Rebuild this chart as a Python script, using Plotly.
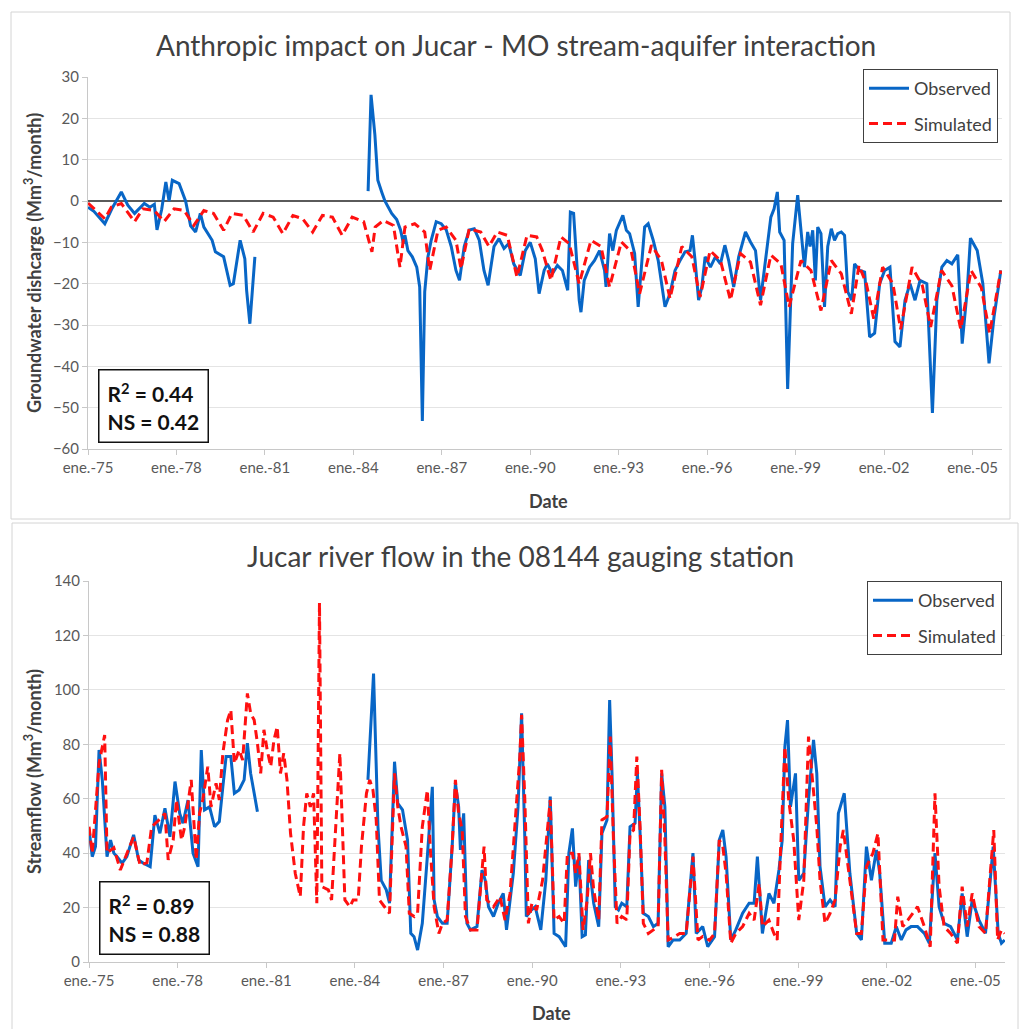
import plotly.graph_objects as go

# ---------------- DATA ----------------
TICK_YEARS = [1975, 1978, 1981, 1984, 1987, 1990, 1993, 1996, 1999, 2002, 2005]
TICK_LABELS = ["ene.-75", "ene.-78", "ene.-81", "ene.-84", "ene.-87", "ene.-90",
               "ene.-93", "ene.-96", "ene.-99", "ene.-02", "ene.-05"]

# Groundwater discharge, observed (decimal year, Mm3/month); None = gap
gw_obs_t = [1975.0, 1975.2, 1975.57, 1975.8, 1976.13, 1976.35, 1976.58, 1976.91, 1977.1, 1977.25,
            1977.34, 1977.5, 1977.64, 1977.75, 1977.86, 1978.09, 1978.31, 1978.48, 1978.65, 1978.81,
            1978.93, 1979.21, 1979.32, 1979.6, 1979.82, 1979.93, 1980.16, 1980.32, 1980.38, 1980.49,
            1980.66, None,
            1984.5, 1984.6, 1984.73, 1984.83, 1984.97, 1985.07, 1985.3, 1985.47, 1985.6, 1985.7,
            1985.75, 1985.85, 1986.0, 1986.15, 1986.25, 1986.34, 1986.42, 1986.53, 1986.64, 1986.81,
            1986.98, 1987.15, 1987.32, 1987.48, 1987.6, 1987.76, 1987.93, 1988.1, 1988.27, 1988.43,
            1988.57, 1988.77, 1988.94, 1989.11, 1989.27, 1989.44, 1989.66, 1989.83, 1990.0, 1990.17,
            1990.3, 1990.47, 1990.58, 1990.75, 1990.92, 1991.09, 1991.27, 1991.36, 1991.47, 1991.55,
            1991.66, 1991.72, 1991.83, 1992.01, 1992.18, 1992.35, 1992.52, 1992.57, 1992.69, 1992.8,
            1992.92, 1993.14, 1993.26, 1993.37, 1993.54, 1993.66, 1993.77, 1993.88, 1994.0, 1994.17,
            1994.34, 1994.57, 1994.74, 1994.91, 1995.08, 1995.25, 1995.42, 1995.5, 1995.59, 1995.71,
            1995.82, 1995.93, 1996.11, 1996.28, 1996.45, 1996.6, 1996.73, 1996.9, 1997.07, 1997.3,
            1997.47, 1997.64, 1997.81, 1997.98, 1998.16, 1998.27, 1998.38, 1998.46, 1998.61, 1998.73,
            1998.9, 1999.07, 1999.18, 1999.3, 1999.41, 1999.49, 1999.58, 1999.67, 1999.75, 1999.86,
            1999.98, 2000.09, 2000.21, 2000.32, 2000.43, 2000.55, 2000.66, 2000.77, 2000.9, 2001.0,
            2001.17, 2001.34, 2001.51, 2001.68, 2001.85, 2002.02, 2002.2, 2002.37, 2002.54, 2002.71,
            2002.88, 2003.05, 2003.22, 2003.45, 2003.64, 2003.79, 2003.96, 2004.13, 2004.3, 2004.5,
            2004.65, 2004.82, 2004.93, 2005.16, 2005.35, 2005.56, 2005.73, 2005.96]
gw_obs_v = [-1.5, -2.5, -5.5, -2, 2.2, -1, -3, -0.6, -1.5, -0.8,
            -7, -2, 4.6, 0, 5, 4.2, 0, -6, -7.5, -3,
            -6.3, -9.5, -12.3, -13.5, -20.4, -20, -9.5, -14, -21.6, -29.7,
            -13.5, None,
            2.4, 25.7, 16, 5, 2, 0, -3, -4.5, -7, -10.3,
            -8.3, -12, -13.5, -16, -20.8, -53.2, -22, -13.5, -9.5, -5,
            -5.5, -7, -11, -16.8, -19.2, -11, -7, -6.7, -9.5, -16.8,
            -20.4, -11, -9.1, -11.5, -10.3, -15.2, -18, -12, -10, -14,
            -22.4, -16.8, -15.2, -17.6, -15.6, -16.8, -21.6, -2.7, -3, -12,
            -24, -26.9, -19.2, -16, -14.4, -12, -16.8, -20.8, -7.9, -12,
            -7.1, -3.5, -7.1, -7.9, -12.7, -25.6, -16.8, -6.3, -5.5, -9.5,
            -14.4, -25.6, -22.4, -16.8, -14.4, -12.3, -12, -8.3, -14.4, -24,
            -20.8, -13.5, -16, -13.5, -15.2, -10.7, -14.4, -20.8, -13.5, -7.5,
            -9.9, -12, -24, -14.4, -3.9, -1.9, 2.2, -7.5, -9.5, -45.5,
            -10.3, 1.4, -6.3, -16, -7.5, -11, -7.1, -19.2, -6.3, -7.9,
            -25.6, -11, -6.7, -9.5, -7.9, -7.5, -8.3, -22, -24, -15.2,
            -16.8, -17.2, -32.9, -32, -20, -16.8, -16, -34, -35.3, -24,
            -20, -24, -19.2, -20, -51.3, -24, -16, -14.4, -15.2, -13,
            -34.5, -21.6, -9, -12, -20, -39.3, -28, -16.8]

# Groundwater discharge, simulated
gw_sim_t = [1975.0, 1975.57, 1975.79, 1976.13, 1976.58, 1976.86, 1977.25, 1977.58, 1977.92, 1978.26,
            1978.59, 1978.93, 1979.26, 1979.6, 1979.88, 1980.27, 1980.6, 1980.94, 1981.28, 1981.61,
            1981.95, 1982.28, 1982.62, 1982.95, 1983.29, 1983.62, 1983.96, 1984.35, 1984.63, 1984.74,
            1985.02, 1985.36, 1985.58, 1985.75, 1986.08, 1986.42, 1986.59, 1986.87, 1987.15, 1987.48,
            1987.65, 1987.93, 1988.32, 1988.6, 1988.88, 1989.22, 1989.55, 1989.89, 1990.22, 1990.41,
            1990.7, 1991.04, 1991.32, 1991.66, 1992.06, 1992.4, 1992.69, 1993.09, 1993.43, 1993.71,
            1994.11, 1994.45, 1994.74, 1995.14, 1995.48, 1995.76, 1996.1, 1996.45, 1996.79, 1997.13,
            1997.47, 1997.81, 1998.16, 1998.5, 1998.78, 1999.18, 1999.52, 1999.86, 2000.21, 2000.55,
            2000.89, 2001.15, 2001.4, 2001.65, 2001.95, 2002.3, 2002.56, 2002.95, 2003.3, 2003.58,
            2003.95, 2004.3, 2004.6, 2004.95, 2005.3, 2005.58, 2005.96]
gw_sim_v = [-0.5, -4.3, -1.5, -0.6, -5, -1.9, -2.3, -5, -1.9, -2.3,
            -5.9, -2.3, -3, -7.1, -3, -3.5, -7.5, -3, -3.9, -7.9,
            -3.5, -4.3, -7.5, -3.5, -3.9, -8.3, -3.9, -5, -12.3, -6.3,
            -4.7, -5.9, -16, -6.3, -5.5, -7.5, -16.8, -7.1, -6.3, -9.5,
            -16.4, -6.7, -7.5, -11, -7.5, -8.3, -18.4, -8.3, -8.7, -12,
            -19.2, -8.7, -10.3, -20, -9.5, -11, -20.8, -9.9, -12.3, -22.4,
            -10.7, -14.4, -23.6, -11, -13.5, -23.2, -12, -14.4, -24, -12.7,
            -14.8, -25.2, -13.1, -15.2, -25.6, -14.4, -16.8, -26.5, -14.4, -17.6,
            -27.3, -15.6, -20, -28.5, -16, -20, -31, -16, -20.5, -30.5,
            -16.8, -20.5, -31, -16.8, -21, -32, -16.8]

# Streamflow at 08144, observed
sf_obs_t = [1975.0, 1975.11, 1975.22, 1975.34, 1975.45, 1975.61, 1975.73, 1975.84, 1975.95, 1976.12,
            1976.28, 1976.51, 1976.68, 1976.84, 1977.07, 1977.23, 1977.4, 1977.57, 1977.74, 1977.91,
            1978.07, 1978.18, 1978.35, 1978.52, 1978.69, 1978.8, 1978.91, 1979.08, 1979.25, 1979.41,
            1979.53, 1979.64, 1979.8, 1979.92, 1980.08, 1980.25, 1980.36, 1980.47, 1980.59, 1980.7,
            None,
            1984.44, 1984.63, 1984.78, 1984.89, 1985.06, 1985.17, 1985.34, 1985.45, 1985.61, 1985.78,
            1985.89, 1986.0, 1986.12, 1986.28, 1986.45, 1986.62, 1986.68, 1986.79, 1986.96, 1987.12,
            1987.29, 1987.4, 1987.51, 1987.57, 1987.68, 1987.79, 1987.91, 1988.13, 1988.3, 1988.41,
            1988.52, 1988.69, 1988.85, 1989.02, 1989.13, 1989.36, 1989.52, 1989.64, 1989.75, 1989.8,
            1989.97, 1990.1, 1990.29, 1990.46, 1990.61, 1990.74, 1990.91, 1991.13, 1991.24, 1991.36,
            1991.47, 1991.58, 1991.69, 1991.8, 1991.91, 1992.08, 1992.25, 1992.36, 1992.53, 1992.62,
            1992.7, 1992.81, 1992.92, 1993.03, 1993.2, 1993.31, 1993.48, 1993.56, 1993.65, 1993.76,
            1993.93, 1994.1, 1994.26, 1994.38, 1994.49, 1994.6, 1994.77, 1994.99, 1995.21, 1995.44,
            1995.55, 1995.77, 1995.94, 1996.17, 1996.33, 1996.45, 1996.56, 1996.72, 1996.89, 1997.12,
            1997.34, 1997.51, 1997.62, 1997.79, 1998.01, 1998.18, 1998.35, 1998.46, 1998.55, 1998.64,
            1998.74, 1998.91, 1999.02, 1999.19, 1999.35, 1999.52, 1999.63, 1999.74, 1999.91, 2000.08,
            2000.25, 2000.36, 2000.56, 2000.75, 2000.98, 2001.14, 2001.31, 2001.48, 2001.65, 2001.76,
            2001.93, 2002.15, 2002.32, 2002.49, 2002.65, 2002.82, 2003.04, 2003.27, 2003.44, 2003.63,
            2003.77, 2003.94, 2004.16, 2004.39, 2004.55, 2004.72, 2004.89, 2005.12, 2005.34, 2005.6,
            2005.77, 2005.88, 2005.99]
sf_obs_v = [49, 38.7, 42.4, 77.9, 66.9, 38.7, 44.8, 40, 38.7, 36.3,
            38.7, 46.7, 37.5, 36.3, 35, 54, 47.3, 56.5, 46, 66.3,
            54.6, 51, 59.5, 40, 35, 77.9, 55.9, 57, 49.7, 51.6,
            64.4, 75.5, 75.5, 62, 63.2, 66.9, 80.4, 69.3, 62, 55.2,
            None,
            66.9, 106, 49.7, 30, 26.5, 21.6, 73.6, 58.3, 55.9, 44.8,
            10.5, 9.3, 4.4, 14.2, 38.7, 64.4, 22.8, 16.7, 14.2, 14.2,
            42.4, 65.7, 57, 41.2, 54.6, 14.2, 11.8, 13, 33.8, 30,
            20.3, 16.7, 21.6, 25.2, 11.8, 32.6, 57, 91.4, 44.8, 16.7,
            19.1, 20.3, 11.8, 30, 60.8, 10.5, 9.3, 5.6, 40, 49.1,
            27.7, 38.7, 9.3, 10, 37.5, 21.6, 13, 47.3, 52.2, 96.3,
            69.3, 20.3, 19.1, 21.6, 20.3, 49.7, 51, 69.3, 47.3, 17.9,
            16.7, 13, 14.2, 69.3, 57, 5.6, 8.1, 8.1, 10.5, 40,
            10.5, 13, 5.6, 9.3, 44.8, 48.5, 38.7, 8.1, 11.8, 17.9,
            21.6, 21.6, 38.7, 10.5, 25.2, 21.6, 33.8, 44.8, 79.1, 88.9,
            57, 69.3, 30, 32.6, 59.5, 81.6, 69.3, 35, 20.3, 22.8,
            20.3, 54.6, 62, 32.6, 10.5, 8.1, 42.4, 30, 41.2, 32.6,
            6.9, 6.9, 13, 8.1, 11.8, 13, 13, 10.5, 6.9, 40,
            20.3, 14.2, 13, 8.1, 25.2, 9.3, 22.8, 15.4, 10.5, 42.4,
            10.5, 6.9, 8.1]

# Streamflow at 08144, simulated
sf_sim_t = [1975.0, 1975.11, 1975.34, 1975.53, 1975.61, 1975.84, 1976.06, 1976.28, 1976.51, 1976.73,
            1976.96, 1977.12, 1977.35, 1977.57, 1977.68, 1977.85, 1977.96, 1978.13, 1978.24, 1978.46,
            1978.63, 1978.74, 1978.85, 1979.02, 1979.13, 1979.3, 1979.41, 1979.53, 1979.69, 1979.8,
            1979.92, 1980.08, 1980.2, 1980.36, 1980.47, 1980.59, 1980.7, 1980.81, 1980.92, 1981.03,
            1981.15, 1981.26, 1981.37, 1981.48, 1981.59, 1981.7, 1981.82, 1981.98, 1982.15, 1982.26,
            1982.37, 1982.49, 1982.6, 1982.71, 1982.8, 1982.88, 1983.1, 1983.21, 1983.49, 1983.66,
            1983.83, 1983.94, 1984.11, 1984.22, 1984.39, 1984.5, 1984.61, 1984.72, 1984.83, 1985.0,
            1985.17, 1985.34, 1985.45, 1985.56, 1985.73, 1985.84, 1986.01, 1986.12, 1986.28, 1986.45,
            1986.56, 1986.68, 1986.84, 1986.96, 1987.12, 1987.29, 1987.4, 1987.51, 1987.63, 1987.74,
            1987.91, 1988.13, 1988.3, 1988.37, 1988.46, 1988.69, 1988.91, 1989.08, 1989.25, 1989.41,
            1989.58, 1989.64, 1989.75, 1989.87, 1989.99, 1990.15, 1990.24, 1990.35, 1990.61, 1990.74,
            1990.91, 1991.08, 1991.19, 1991.36, 1991.47, 1991.58, 1991.72, 1991.86, 1991.97, 1992.08,
            1992.25, 1992.36, 1992.53, 1992.64, 1992.75, 1992.87, 1993.03, 1993.2, 1993.31, 1993.43,
            1993.54, 1993.65, 1993.76, 1993.93, 1994.1, 1994.26, 1994.38, 1994.49, 1994.6, 1994.77,
            1994.99, 1995.21, 1995.44, 1995.61, 1995.77, 1996.0, 1996.17, 1996.33, 1996.45, 1996.56,
            1996.72, 1996.89, 1997.12, 1997.34, 1997.51, 1997.68, 1997.79, 1998.01, 1998.18, 1998.29,
            1998.4, 1998.55, 1998.68, 1998.85, 1999.02, 1999.19, 1999.35, 1999.52, 1999.63, 1999.74,
            1999.91, 2000.08, 2000.25, 2000.42, 2000.53, 2000.75, 2000.98, 2001.14, 2001.31, 2001.53,
            2001.7, 2001.87, 2002.09, 2002.26, 2002.37, 2002.54, 2002.71, 2003.04, 2003.27, 2003.47,
            2003.63, 2003.77, 2003.94, 2004.16, 2004.39, 2004.55, 2004.72, 2004.89, 2005.12, 2005.34,
            2005.62, 2005.75, 2005.88, 2005.99]
sf_sim_v = [49.7, 40, 73, 83.4, 40, 42, 33.8, 40, 46, 35.5,
            36.5, 49.7, 52, 54.6, 37.5, 44.8, 59.5, 44.8, 49.7, 66.9,
            37.5, 54.6, 59.5, 71.8, 57, 65.7, 59.5, 76.7, 88.9, 92.6,
            73, 77.9, 74.2, 98.7, 91.4, 88.9, 80.4, 69.3, 85.3, 77.9,
            71.8, 81.6, 86.5, 69.3, 76.7, 66.9, 47.3, 32.6, 24, 49.7,
            62, 57, 62, 21.6, 132, 27.7, 26.5, 22.8, 76.7, 22.8,
            20.3, 22.8, 22.8, 42.4, 62, 66.9, 63.2, 52.2, 22.8, 20.3,
            17.9, 69.3, 57, 49.7, 42.4, 17.9, 16.7, 17.9, 49.7, 63.2,
            40, 20.3, 10.5, 14.2, 15.4, 42.4, 66.9, 54.6, 48.5, 16.7,
            11.8, 11.8, 31.4, 42.4, 22.8, 20.3, 24, 15.4, 25.2, 49.7,
            75.5, 90.8, 59.5, 14.2, 21.6, 19.1, 24, 30, 59.5, 15.4,
            16.7, 14.2, 40, 40, 32.6, 40, 11.8, 22.8, 40, 26.5,
            15.4, 52.2, 53.4, 82.8, 44.8, 14.2, 16.7, 15.5, 47.3, 48.5,
            75.5, 49.7, 14.2, 10.5, 11.8, 13, 70.6, 44.8, 8.1, 9,
            10.5, 10.5, 38.7, 8.1, 9.4, 8, 10.5, 44.8, 42.4, 32.6,
            6.9, 10.5, 13, 17.9, 15.4, 28.9, 13, 15.4, 10.5, 8.1,
            40, 79.1, 59.5, 44.8, 15.4, 30, 82.8, 62, 49.7, 30,
            14.2, 17.9, 22.8, 42.4, 48.5, 30, 10.5, 10.5, 35, 40,
            47.3, 8.1, 8.1, 8.1, 24, 13, 15.4, 20.3, 13, 5.6,
            62, 27.7, 13, 10.5, 6.9, 27.7, 13, 25.2, 13, 10.5,
            48.5, 8.1, 11.8, 10.5]

STATS_TOP = ("0.44", "0.42")
STATS_BOTTOM = ("0.89", "0.88")

# ---------------- FIGURE ----------------
W, H = 1033, 1029
def fx(p):
    return p / W
def fy(p):
    return 1 - p / H

BLUE = "#0866C6"
RED = "#FF1010"
DASH = "9px,5px"
FONT = "Lato"
GRAY = "#595959"
DARK = "#404040"

fig = go.Figure()
fig.add_trace(go.Scatter(x=gw_obs_t, y=gw_obs_v, mode="lines", name="Observed",
                         line=dict(color=BLUE, width=3), xaxis="x", yaxis="y",
                         legend="legend", legendgroup="o1"))
fig.add_trace(go.Scatter(x=gw_sim_t, y=gw_sim_v, mode="lines", name="Simulated",
                         line=dict(color=RED, width=3, dash=DASH), xaxis="x", yaxis="y",
                         legend="legend", legendgroup="s1"))
fig.add_trace(go.Scatter(x=sf_obs_t, y=sf_obs_v, mode="lines", name="Observed",
                         line=dict(color=BLUE, width=3), xaxis="x2", yaxis="y2",
                         legend="legend2", legendgroup="o2"))
fig.add_trace(go.Scatter(x=sf_sim_t, y=sf_sim_v, mode="lines", name="Simulated",
                         line=dict(color=RED, width=3, dash=DASH), xaxis="x2", yaxis="y2",
                         legend="legend2", legendgroup="s2"))

xcommon = dict(range=[1975, 2006], tickmode="array", tickvals=TICK_YEARS, ticktext=TICK_LABELS,
               showgrid=False, zeroline=False, showline=True, linecolor="#c8c8c8", linewidth=1,
               ticks="outside", ticklen=5, tickcolor="#c8c8c8", automargin=False,
               tickfont=dict(family=FONT, size=15, color=GRAY))
ycommon = dict(showgrid=True, gridcolor="#e4e4e4", gridwidth=1, showline=True,
               linecolor="#c8c8c8", linewidth=1, ticks="outside", ticklen=5, tickcolor="#c8c8c8",
               automargin=False, tickfont=dict(family=FONT, size=15, color=GRAY))
legcommon = dict(xanchor="right", yanchor="top", bgcolor="white", bordercolor=DARK, borderwidth=1,
                 font=dict(family=FONT, size=18, color=DARK), tracegroupgap=9, itemwidth=40)

fig.update_layout(
    width=W, height=H, autosize=False,
    margin=dict(l=0, r=0, t=0, b=0, pad=0, autoexpand=False),
    paper_bgcolor="white", plot_bgcolor="white",
    font=dict(family=FONT, color=DARK),
    xaxis=dict(domain=[fx(88), fx(1002)], anchor="y", **xcommon),
    yaxis=dict(domain=[fy(449), fy(77)], anchor="x", range=[-60, 30], dtick=10,
               zeroline=True, zerolinecolor="#5a5a5a", zerolinewidth=2, **ycommon),
    xaxis2=dict(domain=[fx(89), fx(1005)], anchor="y2", **xcommon),
    yaxis2=dict(domain=[fy(962), fy(581)], anchor="x2", range=[0, 140], dtick=20,
                zeroline=False, **ycommon),
    legend=dict(x=fx(998), y=fy(69), **legcommon),
    legend2=dict(x=fx(1002), y=fy(581), **legcommon),
)

# panel borders
fig.add_shape(type="rect", xref="paper", yref="paper", x0=fx(11), x1=fx(1010), y0=fy(519), y1=fy(12),
              line=dict(color="#d4d4d4", width=1), layer="below")
fig.add_shape(type="rect", xref="paper", yref="paper", x0=fx(12), x1=fx(1018), y0=fy(1032), y1=fy(523),
              line=dict(color="#d4d4d4", width=1), layer="below")

ann = []
ann.append(dict(text="Anthropic impact on Jucar - MO stream-aquifer interaction", x=fx(516), y=fy(45),
                font=dict(family=FONT, size=28, color=DARK)))
ann.append(dict(text="Jucar river flow in the 08144 gauging station", x=fx(520), y=fy(556),
                font=dict(family=FONT, size=28, color=DARK)))
ann.append(dict(text="<b>Date</b>", x=fx(548), y=fy(501), font=dict(family=FONT, size=18, color=DARK)))
ann.append(dict(text="<b>Date</b>", x=fx(551), y=fy(1013), font=dict(family=FONT, size=18, color=DARK)))
ann.append(dict(text="<b>Groundwater dishcarge (Mm<sup>3</sup>/month)</b>", x=fx(33), y=fy(263),
                textangle=-90, font=dict(family=FONT, size=18, color=DARK)))
ann.append(dict(text="<b>Streamflow (Mm<sup>3</sup>/month)</b>", x=fx(33), y=fy(772), textangle=-90,
                font=dict(family=FONT, size=18, color=DARK)))
for (r2, ns), cx, cy in [(STATS_TOP, 153, 406), (STATS_BOTTOM, 154, 918)]:
    ann.append(dict(text="<b>R<sup>2</sup> = %s<br>NS = %s</b>" % (r2, ns), x=fx(cx), y=fy(cy),
                    align="left", bordercolor="#111111", borderwidth=1.5, borderpad=8, bgcolor="white",
                    font=dict(family=FONT, size=21, color="#111111")))
for a in ann:
    a.update(xref="paper", yref="paper", showarrow=False, xanchor="center", yanchor="middle")
fig.update_layout(annotations=ann)

fig.write_html("out.html")
